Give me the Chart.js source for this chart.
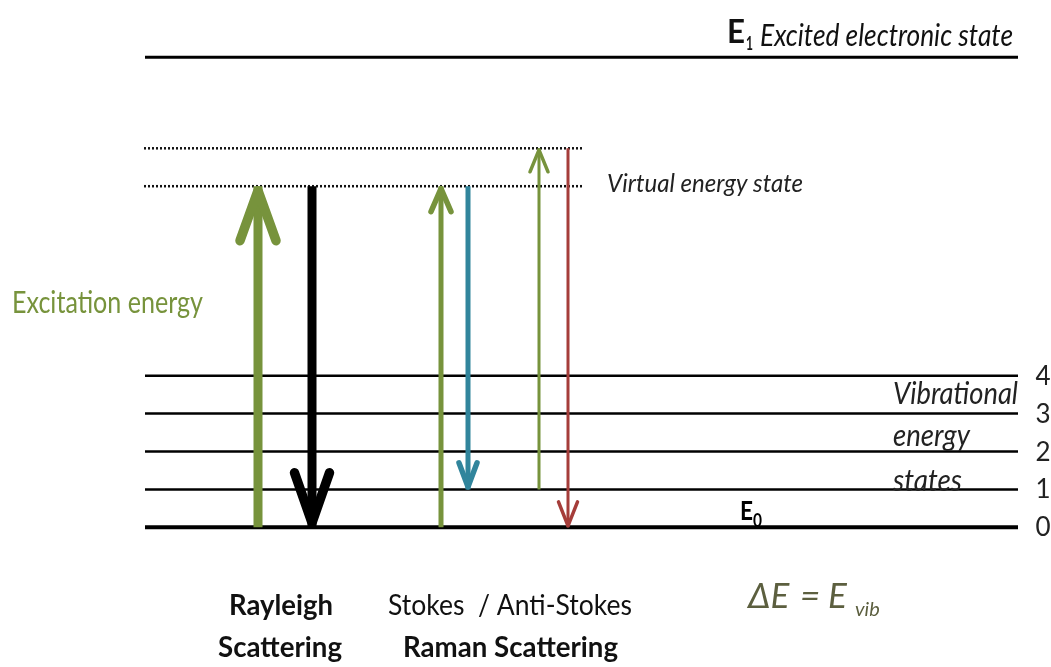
<!DOCTYPE html>
<html><head><meta charset="utf-8">
<script src="https://cdn.jsdelivr.net/npm/chart.js@4.4.1/dist/chart.umd.min.js"></script>
<style>html,body{margin:0;padding:0;background:#fff;overflow:hidden}canvas{display:block}</style>
</head><body>
<canvas id="c" width="1051" height="667"></canvas>
<script>
// ---- data ----
const vibrationalLevels = [0, 1, 2, 3, 4];
const vibrationalLabels = ['0', '1', '2', '3', '4'];
const virtualStates = [9, 10];
const excitedState = 12.4;
const transitionNames = ['Rayleigh excitation', 'Rayleigh scattered', 'Stokes excitation', 'Stokes scattered', 'Anti-Stokes excitation', 'Anti-Stokes scattered'];
const transitionX = [258, 312, 441, 468, 539, 568];
const transitionFrom = [0, 9, 0, 9, 1, 10];
const transitionTo = [9, 0, 9, 1, 10, 0];

// ---- styles ----
const levelSpan = [145, 1018];
const virtualSpan = [144, 582];
const transitionColors = ['#77933C', '#000000', '#77933C', '#31859C', '#77933C', '#A53D3A'];
const transitionWidths = [9, 9, 5, 5, 3, 3];
const headHalf = [18, 17.5, 10, 9, 9, 9.5];
const headLen = [50, 50, 23, 24, 22, 24];

const datasets = [];
vibrationalLevels.forEach((lv, i) => {
  datasets.push({ label: 'v=' + lv, data: [{x: levelSpan[0], y: lv}, {x: levelSpan[1], y: lv}],
    borderColor: '#000', borderWidth: lv === 0 ? 4 : 2.5, order: 5 });
});
datasets.push({ label: 'E1', data: [{x: levelSpan[0], y: excitedState}, {x: levelSpan[1], y: excitedState}],
  borderColor: '#000', borderWidth: 3, order: 5 });
virtualStates.forEach(v => {
  datasets.push({ label: 'virtual', data: [{x: virtualSpan[0], y: v}, {x: virtualSpan[1], y: v}],
    borderColor: '#111', borderWidth: 2.5, borderDash: [2, 2], order: 5 });
});
transitionNames.forEach((n, i) => {
  datasets.push({ label: n, data: [{x: transitionX[i], y: transitionFrom[i]}, {x: transitionX[i], y: transitionTo[i]}],
    borderColor: transitionColors[i], borderWidth: transitionWidths[i], order: 0 });
});

function txt(ctx, s, x, y, font, color, maxW, align) {
  ctx.font = font; ctx.fillStyle = color; ctx.textAlign = align || 'left'; ctx.textBaseline = 'alphabetic';
  if (maxW) ctx.fillText(s, x, y, maxW); else ctx.fillText(s, x, y);
}

const F = 'Lato, "Open Sans", sans-serif';
const deco = {
  id: 'deco',
  afterDatasetsDraw(chart) {
    const ctx = chart.ctx, xs = chart.scales.x, ys = chart.scales.y;
    ctx.save();
    // arrow heads
    transitionNames.forEach((n, i) => {
      const x = xs.getPixelForValue(transitionX[i]);
      const yTo = ys.getPixelForValue(transitionTo[i]);
      const dir = transitionTo[i] > transitionFrom[i] ? 1 : -1; // 1 = up
      const lw = transitionWidths[i];
      const tip = yTo + dir * lw / 2;
      ctx.beginPath();
      ctx.moveTo(x - headHalf[i], tip + dir * headLen[i]);
      ctx.lineTo(x, tip);
      ctx.lineTo(x + headHalf[i], tip + dir * headLen[i]);
      ctx.strokeStyle = transitionColors[i]; ctx.lineWidth = lw + 0.5;
      ctx.lineCap = 'round'; ctx.lineJoin = 'round';
      ctx.stroke();
    });
    // texts
    txt(ctx, 'E', 727, 43, 'bold 32px ' + F, '#111', 18);
    txt(ctx, '1', 746, 50, 'bold 18px ' + F, '#111', 7);
    txt(ctx, 'Excited electronic state', 760, 46, 'italic 30px ' + F, '#111', 253);
    txt(ctx, 'Virtual energy state', 607, 192, 'italic 26px ' + F, '#222', 196);
    txt(ctx, 'Excitation energy', 12, 313, '30px ' + F, '#77933C', 191);
    txt(ctx, 'Vibrational', 893, 404, 'italic 30px ' + F, '#222', 125);
    txt(ctx, 'energy', 893, 446, 'italic 30px ' + F, '#222', 77);
    txt(ctx, 'states', 893, 491, 'italic 30px ' + F, '#222', 69);
    vibrationalLabels.forEach((lab, i) => {
      txt(ctx, lab, 1043, ys.getPixelForValue(vibrationalLevels[i]) + 9, '26px ' + F, '#222', 16, 'center');
    });
    txt(ctx, 'E', 740, 520, 'bold 26px ' + F, '#000', 13);
    txt(ctx, '0', 753, 527, 'bold 18px ' + F, '#000', 9);
    txt(ctx, 'Rayleigh', 281, 615, 'bold 28px ' + F, '#111', 104, 'center');
    txt(ctx, 'Scattering', 280, 657, 'bold 28px ' + F, '#111', 124, 'center');
    txt(ctx, 'Stokes  / Anti-Stokes', 388, 615, '28px ' + F, '#111', 244);
    txt(ctx, 'Raman Scattering', 403, 657, 'bold 28px ' + F, '#111', 215);
    const dc = '#5C5F3F', df = 'italic 35px ' + F;
    txt(ctx, '\u0394E', 748, 608, df, dc);
    txt(ctx, '=', 800, 608, df, dc);
    txt(ctx, 'E', 828, 608, df, dc);
    txt(ctx, 'vib', 855, 616, 'italic 20px ' + F, dc);
    ctx.restore();
  }
};

new Chart(document.getElementById('c'), {
  type: 'scatter',
  data: { datasets },
  options: {
    responsive: false, animation: false, events: [],
    layout: { padding: 0 },
    showLine: true,
    elements: { point: { radius: 0 }, line: { borderCapStyle: 'butt', tension: 0 } },
    datasets: { scatter: { showLine: true, clip: false, pointRadius: 0 } },
    plugins: { legend: { display: false }, tooltip: { enabled: false } },
    scales: {
      x: { type: 'linear', display: false, min: 0, max: 1051 },
      y: { type: 'linear', display: false, min: -3.686, max: 13.913 }
    }
  },
  plugins: [deco]
});
</script>
</body></html>
